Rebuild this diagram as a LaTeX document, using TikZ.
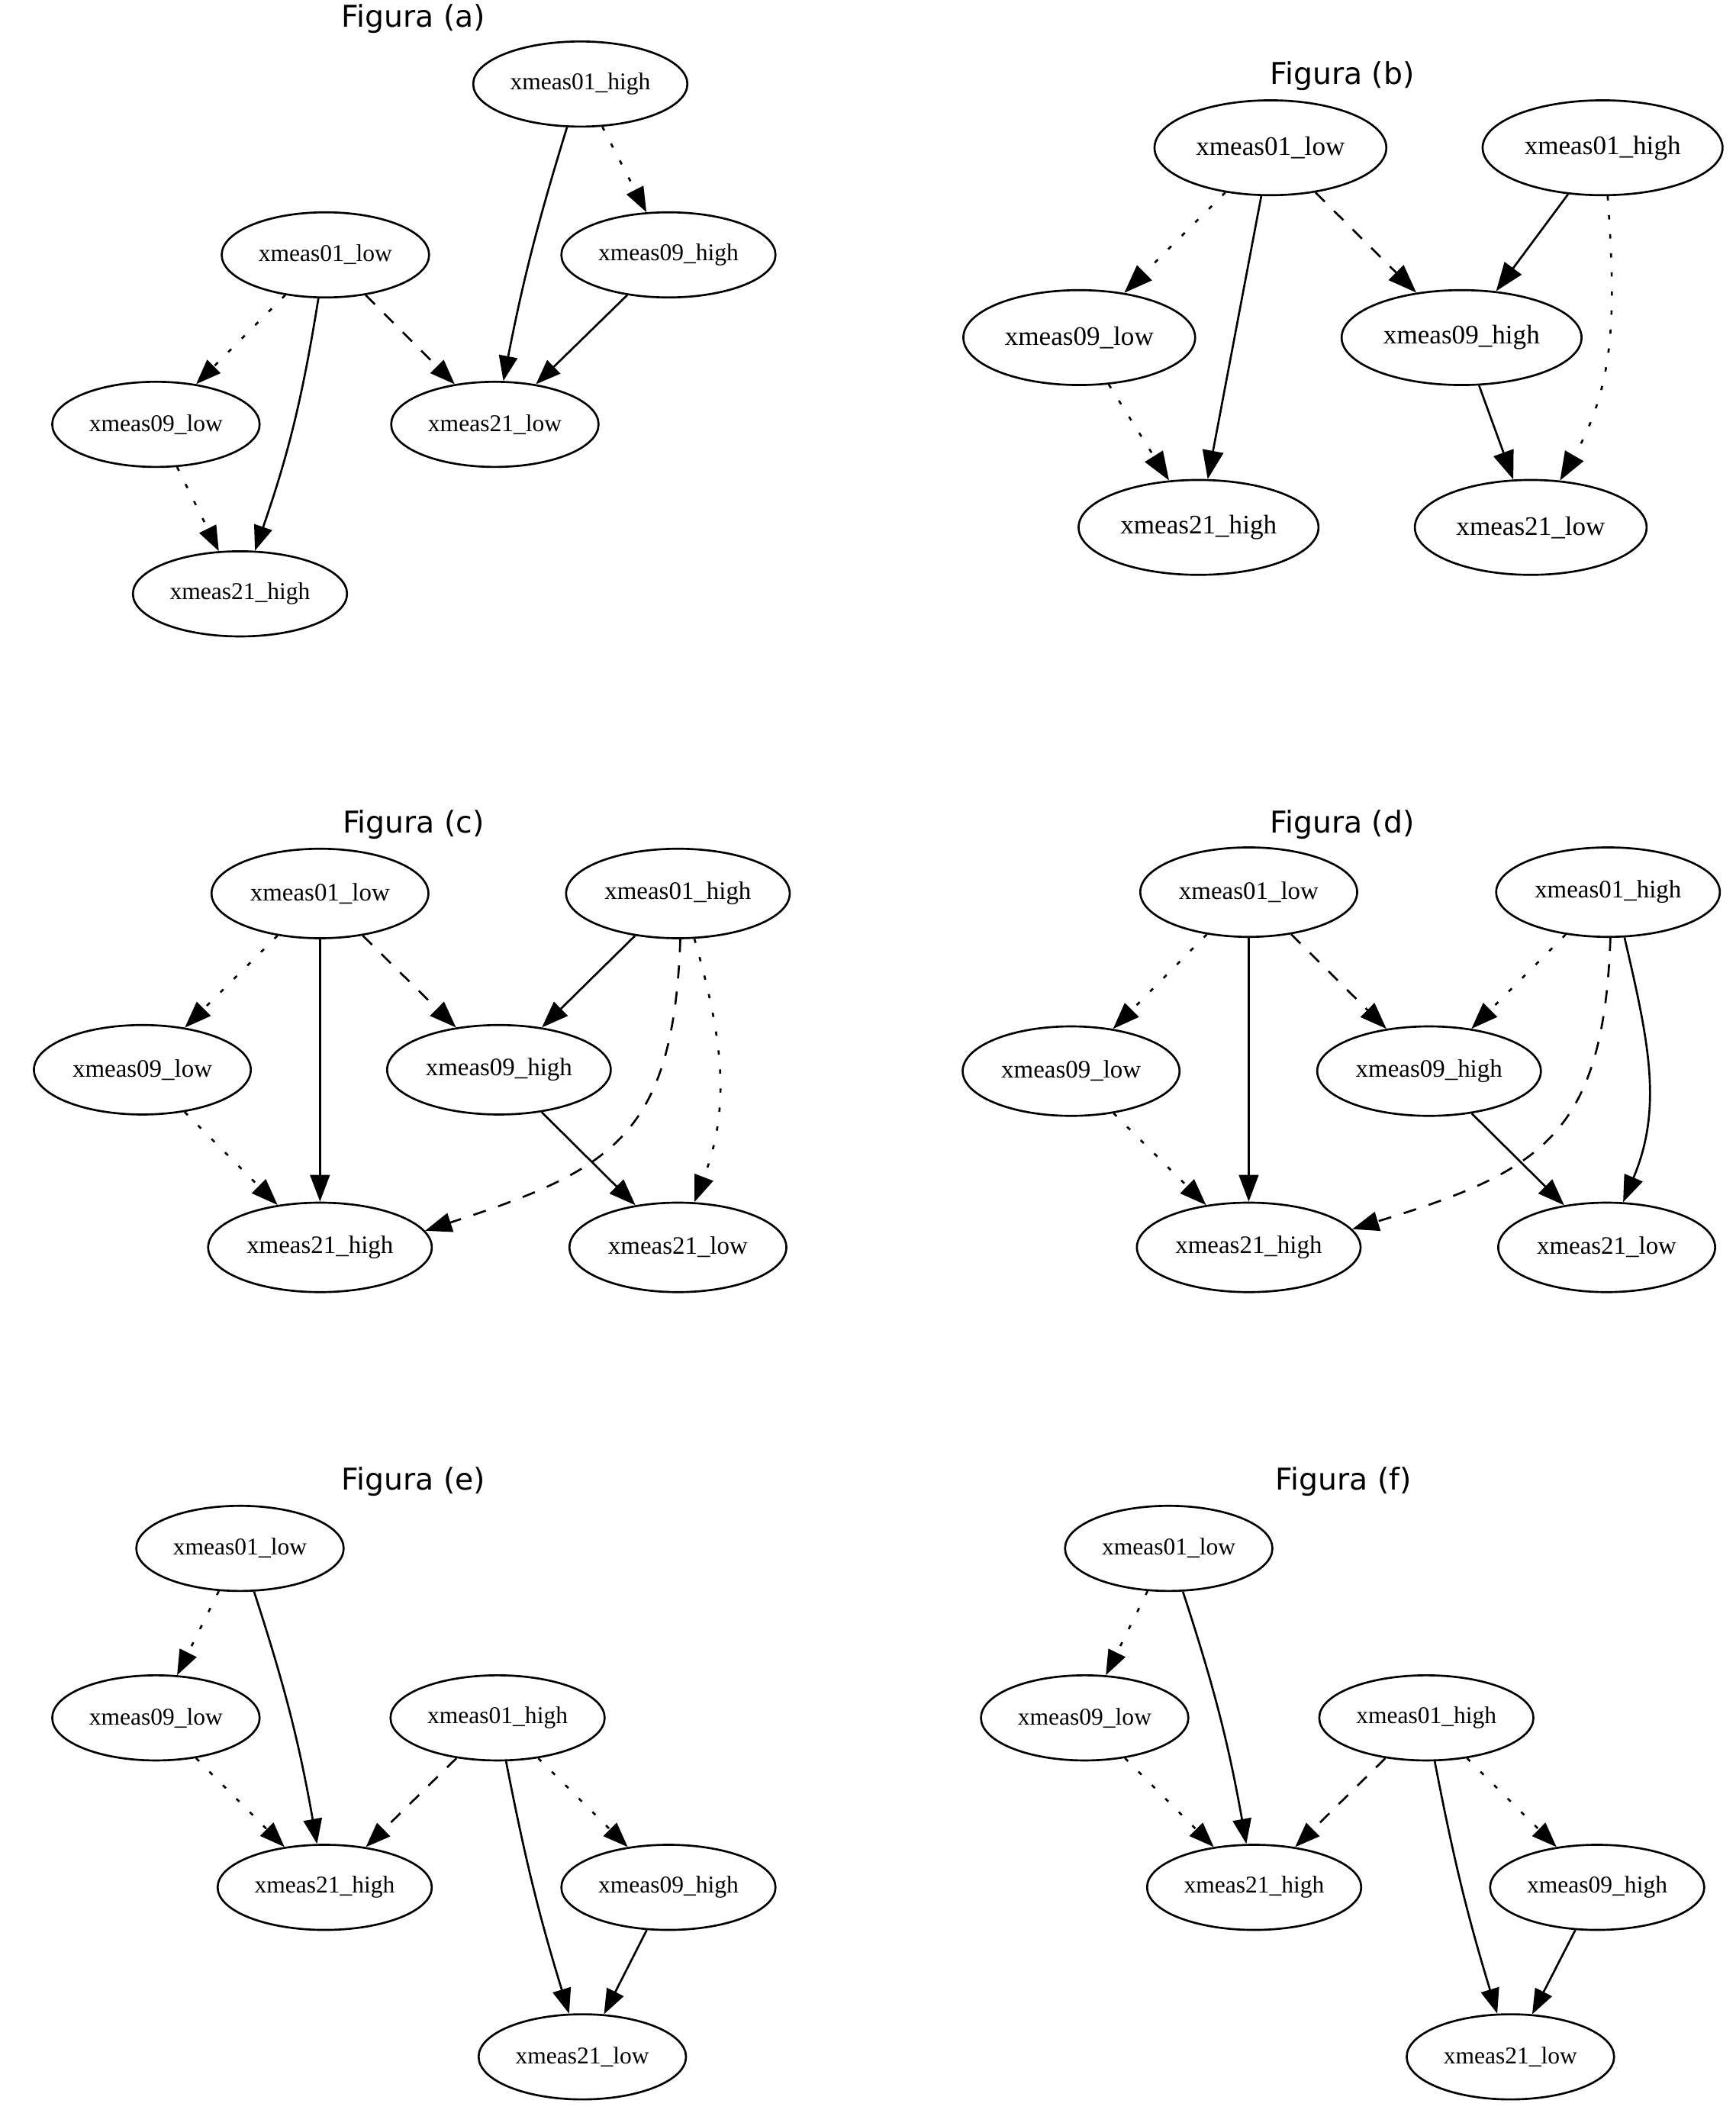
\documentclass[tikz,border=0pt]{standalone}
\usepackage{fontspec}
\setmainfont{Liberation Serif}
\newfontfamily\titlefont{DejaVu Sans}
\usetikzlibrary{arrows.meta,shapes.geometric}
\begin{document}
\begin{tikzpicture}[x=0.02cm,y=0.02cm,
  gnode/.style={draw,ellipse,line width=0.85pt,inner sep=0pt},
  sA/.style={gnode,minimum height=1.256cm,font=\fontsize{10.1}{12}\selectfont},
  hiA/.style={sA,minimum width=3.16cm},
  loA/.style={sA,minimum width=3.06cm},
  sB/.style={gnode,minimum height=1.40cm,font=\fontsize{11.25}{13}\selectfont},
  hiB/.style={sB,minimum width=3.54cm},
  loB/.style={sB,minimum width=3.42cm},
  sC/.style={gnode,minimum height=1.32cm,font=\fontsize{10.55}{12}\selectfont},
  hiC/.style={sC,minimum width=3.30cm},
  loC/.style={sC,minimum width=3.20cm},
  ttl/.style={inner sep=0pt,font=\titlefont\fontsize{12.6}{15}\selectfont},
  conn/.style={line width=0.85pt,-{Triangle[length=10.5pt,width=7.8pt]}},
  sol/.style={conn},
  dot/.style={conn,dash pattern=on 1.8pt off 6.2pt},
  dsh/.style={conn,dash pattern=on 5.5pt off 5.5pt},
  bigtip/.style={-{Triangle[length=12pt,width=8.8pt]}},
  midtip/.style={-{Triangle[length=11.2pt,width=8.2pt]}},
]
\fill[white] (0,0) rectangle (1280,1568);
\useasboundingbox (0,0) rectangle (1280,1568);

% ---------------- Figura (a)
\node[ttl] (ta) at (305,1554) {Figura (a)};
\node[hiA] (A01h) at (428,1506) {xmeas01\_high};
\node[loA] (A01l) at (240,1380) {xmeas01\_low};
\node[hiA] (A09h) at (493,1380) {xmeas09\_high};
\node[loA] (A09l) at (115,1255) {xmeas09\_low};
\node[loA] (A21l) at (365,1255) {xmeas21\_low};
\node[hiA] (A21h) at (177,1130) {xmeas21\_high};
\draw[sol] (A01h) to[bend right=3] (A21l);
\draw[dot] (A01h) -- (A09h);
\draw[sol] (A09h) -- (A21l);
\draw[dot] (A01l) -- (A09l);
\draw[sol] (A01l) to[bend left=5] (A21h);
\draw[dsh] (A01l) -- (A21l);
\draw[dot] (A09l) -- (A21h);

% ---------------- Figura (b)
\node[ttl] (tb) at (990,1512) {Figura (b)};
\node[loB] (B01l) at (937,1459) {xmeas01\_low};
\node[hiB] (B01h) at (1182,1459) {xmeas01\_high};
\node[loB] (B09l) at (796,1319) {xmeas09\_low};
\node[hiB] (B09h) at (1078,1319) {xmeas09\_high};
\node[hiB] (B21h) at (884,1179) {xmeas21\_high};
\node[loB] (B21l) at (1129,1179) {xmeas21\_low};
\draw[dot,bigtip] (B01l) -- (B09l);
\draw[sol,bigtip] (B01l) -- (B21h);
\draw[dsh,bigtip] (B01l) -- (B09h);
\draw[sol,bigtip] (B01h) -- (B09h);
\draw[dot,bigtip] (B01h.-84) to[out=-86,in=60] (B21l.58);
\draw[dot,bigtip] (B09l) -- (B21h);
\draw[sol,bigtip] (B09h) -- (B21l);

% ---------------- Figura (c)
\node[ttl] (tc) at (305,960) {Figura (c)};
\node[loC] (C01l) at (236,909) {xmeas01\_low};
\node[hiC] (C01h) at (500,909) {xmeas01\_high};
\node[loC] (C09l) at (105,779) {xmeas09\_low};
\node[hiC] (C09h) at (368,779) {xmeas09\_high};
\node[hiC] (C21h) at (236,648) {xmeas21\_high};
\node[loC] (C21l) at (500,648) {xmeas21\_low};
\draw[dot,midtip] (C01l) -- (C09l);
\draw[sol,midtip] (C01l) -- (C21h);
\draw[dsh,midtip] (C01l) -- (C09h);
\draw[sol,midtip] (C01h) -- (C09h);
\draw[dsh,midtip] (C01h.-87) to[out=-92,in=18,looseness=1.3] (C21h.9);
\draw[dot,midtip] (C01h.-70) to[out=-74,in=69] (C21l.70);
\draw[dot,midtip] (C09l) -- (C21h);
\draw[sol,midtip] (C09h) -- (C21l);

% ---------------- Figura (d)
\node[ttl] (td) at (990,960) {Figura (d)};
\node[loC] (D01l) at (921,910) {xmeas01\_low};
\node[hiC] (D01h) at (1186,910) {xmeas01\_high};
\node[loC] (D09l) at (790,778) {xmeas09\_low};
\node[hiC] (D09h) at (1054,778) {xmeas09\_high};
\node[hiC] (D21h) at (921,648) {xmeas21\_high};
\node[loC] (D21l) at (1185,648) {xmeas21\_low};
\draw[dot,midtip] (D01l) -- (D09l);
\draw[sol,midtip] (D01l) -- (D21h);
\draw[dsh,midtip] (D01l) -- (D09h);
\draw[dot,midtip] (D01h) -- (D09h);
\draw[dsh,midtip] (D01h.-87) to[out=-92,in=17,looseness=1.3] (D21h.10);
\draw[sol,midtip] (D01h.-70) to[out=-77,in=67] (D21l.70);
\draw[dot,midtip] (D09l) -- (D21h);
\draw[sol,midtip] (D09h) -- (D21l);

% ---------------- Figura (e)
\node[ttl] (te) at (305,475) {Figura (e)};
\node[loA] (E01l) at (177,426) {xmeas01\_low};
\node[loA] (E09l) at (115,301) {xmeas09\_low};
\node[hiA] (E01h) at (367,301) {xmeas01\_high};
\node[hiA] (E21h) at (239.5,176) {xmeas21\_high};
\node[hiA] (E09h) at (493,176) {xmeas09\_high};
\node[loA] (E21l) at (429.5,51) {xmeas21\_low};
\draw[dot] (E01l) -- (E09l);
\draw[sol] (E01l) to[bend left=4] (E21h);
\draw[dot] (E09l) -- (E21h);
\draw[dsh] (E01h) -- (E21h);
\draw[sol] (E01h) to[bend right=3] (E21l);
\draw[dot] (E01h) -- (E09h);
\draw[sol] (E09h) -- (E21l);

% ---------------- Figura (f)
\node[ttl] (tf) at (991,475) {Figura (f)};
\node[loA] (F01l) at (862,426) {xmeas01\_low};
\node[loA] (F09l) at (800,301) {xmeas09\_low};
\node[hiA] (F01h) at (1052,301) {xmeas01\_high};
\node[hiA] (F21h) at (925,176) {xmeas21\_high};
\node[hiA] (F09h) at (1178,176) {xmeas09\_high};
\node[loA] (F21l) at (1114,51) {xmeas21\_low};
\draw[dot] (F01l) -- (F09l);
\draw[sol] (F01l) to[bend left=4] (F21h);
\draw[dot] (F09l) -- (F21h);
\draw[dsh] (F01h) -- (F21h);
\draw[sol] (F01h) to[bend right=3] (F21l);
\draw[dot] (F01h) -- (F09h);
\draw[sol] (F09h) -- (F21l);
\end{tikzpicture}
\end{document}
